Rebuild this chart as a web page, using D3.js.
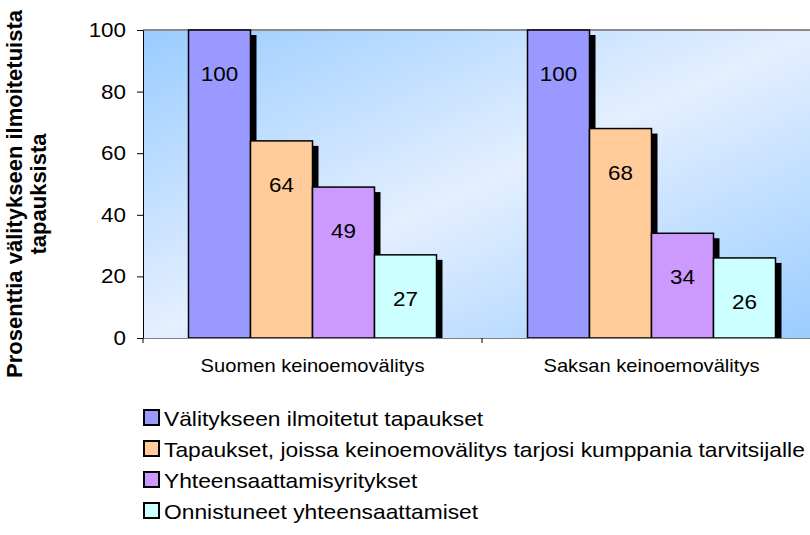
<!DOCTYPE html>
<html>
<head>
<meta charset="utf-8">
<script src="https://cdn.jsdelivr.net/npm/d3@7"></script>
<style>
  html, body { margin: 0; padding: 0; background: #fff; }
  svg { display: block; font-family: "Liberation Sans", Arial, sans-serif; }
</style>
</head>
<body>
<svg id="chart" width="810" height="535"></svg>
<script>
const categories = ["Suomen keinoemovälitys", "Saksan keinoemovälitys"];
const seriesNames = [
  "Välitykseen ilmoitetut tapaukset",
  "Tapaukset, joissa keinoemovälitys tarjosi kumppania tarvitsijalle",
  "Yhteensaattamisyritykset",
  "Onnistuneet yhteensaattamiset"
];
const seriesColors = ["#9999FF", "#FFCC99", "#CC99FF", "#CCFFFF"];
const suomiValues = [100, 64, 49, 27];
const saksaValues = [100, 68, 34, 26];
const yTicks = [0, 20, 40, 60, 80, 100];
const yTitleLines = ["Prosenttia välitykseen ilmoitetuista", "tapauksista"];

const data = categories.map((c, i) => ({
  category: c,
  values: (i === 0 ? suomiValues : saksaValues).map((v, j) => ({ series: seriesNames[j], value: v, color: seriesColors[j] }))
}));

const svg = d3.select("#chart");
const plot = { left: 143, right: 821, top: 30, bottom: 338 };

// widen glyphs horizontally to match the reference rendering
function stretch(sel, factor) {
  sel.each(function () {
    const w = this.getComputedTextLength();
    d3.select(this).attr("textLength", w * factor).attr("lengthAdjust", "spacingAndGlyphs");
  });
}

const x = d3.scaleBand().domain(categories).range([plot.left, plot.right]);
const xInner = d3.scaleBand().domain(seriesNames).range([45.5, x.bandwidth() - 45.5]);
const y = d3.scaleLinear().domain([0, 100]).range([plot.bottom, plot.top]);

// background gradient
const defs = svg.append("defs");
const grad = defs.append("linearGradient").attr("id", "bg")
  .attr("x1", 0).attr("y1", 0).attr("x2", 1).attr("y2", 1);
grad.append("stop").attr("offset", 0).attr("stop-color", "#99CCFF");
grad.append("stop").attr("offset", 0.5).attr("stop-color", "#E4EFFF");
grad.append("stop").attr("offset", 1).attr("stop-color", "#99CCFF");
defs.append("clipPath").attr("id", "plotclip").append("rect")
  .attr("x", plot.left).attr("y", 0).attr("width", plot.right - plot.left).attr("height", plot.bottom);

svg.append("rect")
  .attr("x", plot.left).attr("y", plot.top)
  .attr("width", plot.right - plot.left).attr("height", plot.bottom - plot.top)
  .attr("fill", "url(#bg)");

// top border of plot area
svg.append("line")
  .attr("x1", plot.left).attr("x2", plot.right)
  .attr("y1", plot.top).attr("y2", plot.top)
  .attr("stroke", "#8a8a8a").attr("stroke-width", 2);

// bars
const groups = svg.append("g").attr("clip-path", "url(#plotclip)")
  .selectAll("g.grp").data(data).join("g")
  .attr("class", "grp")
  .attr("transform", d => `translate(${x(d.category)},0)`);

groups.selectAll("rect.shadow").data(d => d.values).join("rect")
  .attr("class", "shadow")
  .attr("x", d => xInner(d.series) + 6)
  .attr("y", d => y(d.value) + 5)
  .attr("width", xInner.bandwidth())
  .attr("height", d => plot.bottom - y(d.value) - 5)
  .attr("fill", "#000");

groups.selectAll("rect.bar").data(d => d.values).join("rect")
  .attr("class", "bar")
  .attr("x", d => xInner(d.series))
  .attr("y", d => y(d.value))
  .attr("width", xInner.bandwidth())
  .attr("height", d => plot.bottom - y(d.value))
  .attr("fill", d => d.color)
  .attr("stroke", "#000")
  .attr("stroke-width", 1.5);

groups.selectAll("text.val").data(d => d.values).join("text")
  .attr("class", "val")
  .attr("x", d => xInner(d.series) + xInner.bandwidth() / 2)
  .attr("y", d => y(d.value) + 44)
  .attr("text-anchor", "middle")
  .attr("dominant-baseline", "central")
  .attr("font-size", 20)
  .attr("fill", "#000")
  .text(d => d.value)
  .call(stretch, 1.12);

// y axis
const yAxis = svg.append("g")
  .attr("transform", `translate(${plot.left},0)`)
  .call(d3.axisLeft(y).tickValues(yTicks).tickSize(6).tickSizeOuter(0).tickPadding(11));
yAxis.select(".domain").attr("stroke", "#000");
yAxis.selectAll(".tick line").attr("stroke", "#000");
yAxis.selectAll(".tick text").attr("font-size", 20).attr("font-family", "Liberation Sans, Arial, sans-serif").attr("fill", "#000")
  .call(stretch, 1.12);

// x axis
const xAxis = svg.append("g")
  .attr("transform", `translate(0,${plot.bottom})`)
  .call(d3.axisBottom(x).tickSize(0).tickPadding(21));
xAxis.select(".domain").attr("stroke", "#808080");
xAxis.selectAll(".tick text").attr("font-size", 19).attr("font-family", "Liberation Sans, Arial, sans-serif").attr("fill", "#000")
  .call(stretch, 1.06);
// category boundary ticks
svg.append("g").selectAll("line").data(categories).join("line")
  .attr("x1", d => x(d)).attr("x2", d => x(d))
  .attr("y1", plot.bottom).attr("y2", plot.bottom + 5)
  .attr("stroke", "#000");

// y title
const yTitle = svg.append("text")
  .attr("transform", "translate(14,194) rotate(-90)")
  .attr("text-anchor", "middle")
  .attr("font-weight", "bold")
  .attr("font-size", 22)
  .attr("fill", "#000");
yTitle.selectAll("tspan").data(yTitleLines).join("tspan")
  .attr("x", 0).attr("dy", (d, i) => i === 0 ? "0.35em" : "1.1em")
  .text(d => d);

// legend
const legend = svg.append("g").selectAll("g").data(seriesNames).join("g")
  .attr("transform", (d, i) => `translate(144,${418 + i * 31})`);
legend.append("rect")
  .attr("x", 0).attr("y", -8).attr("width", 15).attr("height", 15)
  .attr("fill", (d, i) => seriesColors[i])
  .attr("stroke", "#000").attr("stroke-width", 2);
legend.append("text")
  .attr("x", 20).attr("y", 0)
  .attr("dominant-baseline", "central")
  .attr("font-size", 21)
  .attr("fill", "#000")
  .text(d => d)
  .call(stretch, 1.085);
</script>
</body>
</html>
